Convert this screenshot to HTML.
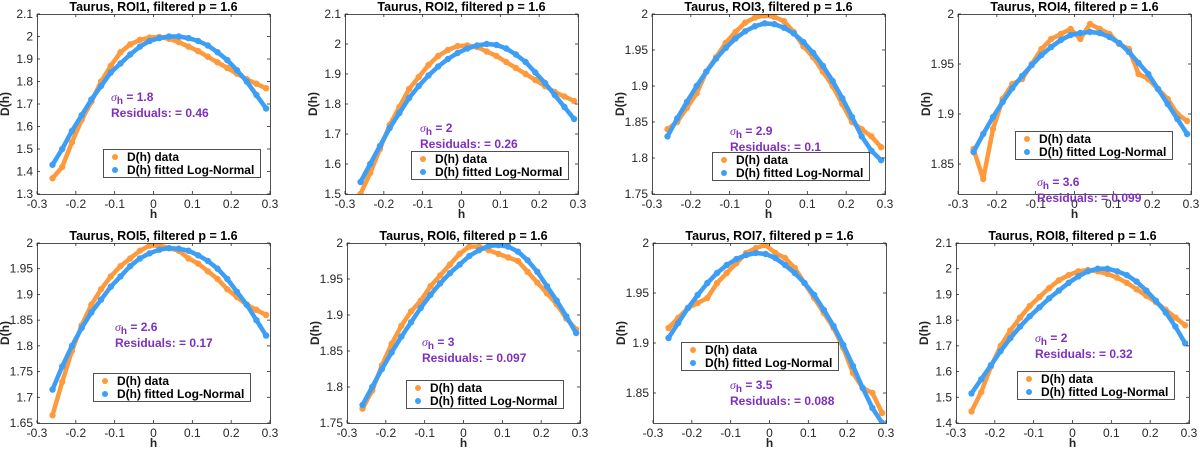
<!DOCTYPE html>
<html><head><meta charset="utf-8"><style>
html,body{margin:0;padding:0;background:#fff;}
svg{display:block;font-family:"Liberation Sans",sans-serif;}
</style></head><body>
<svg id="fig" width="1200" height="450" viewBox="0 0 1200 450" xmlns="http://www.w3.org/2000/svg"></svg>
<script>
const hValues = [-0.26,-0.235,-0.21,-0.185,-0.16,-0.135,-0.11,-0.085,-0.06,-0.035,-0.01,0.015,0.04,0.065,0.09,0.115,0.14,0.165,0.19,0.215,0.24,0.265,0.29];
const xTicks = [-0.3,-0.2,-0.1,0,0.1,0.2,0.3];
const xTickLabels = ["-0.3","-0.2","-0.1","0","0.1","0.2","0.3"];
const roiNames = ["ROI1","ROI2","ROI3","ROI4","ROI5","ROI6","ROI7","ROI8"];
const sigmaValues = ["1.8","2","2.9","3.6","2.6","3","3.5","2"];
const residualValues = ["0.46","0.26","0.1","0.099","0.17","0.097","0.088","0.32"];
const yMins = [1.3,1.5,1.75,1.82,1.65,1.75,1.82,1.4];
const yMaxs = [2.1,2.1,2.0,2.0,2.0,2.0,2.0,2.1];
const yTicks1 = [1.3,1.4,1.5,1.6,1.7,1.8,1.9,2,2.1];
const yTicks2 = [1.5,1.6,1.7,1.8,1.9,2,2.1];
const yTicks3 = [1.75,1.8,1.85,1.9,1.95,2];
const yTicks4 = [1.85,1.9,1.95,2];
const yTicks5 = [1.65,1.7,1.75,1.8,1.85,1.9,1.95,2];
const yTicks6 = [1.75,1.8,1.85,1.9,1.95,2];
const yTicks7 = [1.85,1.9,1.95,2];
const yTicks8 = [1.4,1.5,1.6,1.7,1.8,1.9,2,2.1];
const data1 = [1.37,1.42,1.53,1.63,1.71,1.80,1.87,1.93,1.965,1.985,1.995,1.998,1.99,1.975,1.955,1.935,1.91,1.885,1.86,1.835,1.81,1.79,1.77];
const fit1 = [1.43,1.50,1.58,1.65,1.72,1.78,1.84,1.88,1.92,1.955,1.98,1.993,2.0,2.0,1.993,1.98,1.96,1.93,1.895,1.85,1.80,1.74,1.68];
const data2 = [1.50,1.57,1.65,1.73,1.79,1.85,1.89,1.93,1.96,1.98,1.993,1.995,1.99,1.975,1.96,1.94,1.92,1.90,1.88,1.86,1.84,1.825,1.81];
const fit2 = [1.54,1.60,1.66,1.72,1.77,1.82,1.86,1.895,1.925,1.95,1.97,1.985,1.995,2.0,1.997,1.985,1.965,1.94,1.905,1.87,1.83,1.79,1.75];
const data3 = [1.84,1.85,1.87,1.89,1.92,1.94,1.96,1.975,1.988,1.995,1.998,1.996,1.99,1.975,1.955,1.94,1.92,1.90,1.875,1.85,1.84,1.83,1.815];
const fit3 = [1.83,1.855,1.878,1.90,1.92,1.938,1.953,1.966,1.976,1.983,1.987,1.986,1.981,1.973,1.961,1.946,1.928,1.907,1.883,1.857,1.83,1.81,1.797];
const data4 = [1.865,1.835,1.885,1.915,1.93,1.935,1.95,1.965,1.975,1.98,1.985,1.975,1.99,1.985,1.98,1.97,1.965,1.94,1.935,1.925,1.915,1.90,1.893];
const fit4 = [1.862,1.88,1.897,1.912,1.926,1.938,1.949,1.959,1.967,1.974,1.979,1.981,1.982,1.981,1.977,1.971,1.962,1.951,1.94,1.925,1.91,1.895,1.88];
const data5 = [1.665,1.73,1.79,1.84,1.88,1.91,1.935,1.955,1.97,1.985,1.995,1.995,1.99,1.985,1.97,1.96,1.945,1.93,1.91,1.895,1.88,1.87,1.86];
const fit5 = [1.715,1.76,1.80,1.835,1.865,1.89,1.915,1.935,1.955,1.97,1.98,1.987,1.99,1.989,1.985,1.976,1.965,1.95,1.93,1.905,1.88,1.85,1.82];
const data6 = [1.77,1.795,1.83,1.86,1.885,1.905,1.92,1.94,1.955,1.97,1.985,1.995,1.995,1.99,1.985,1.98,1.975,1.96,1.945,1.93,1.915,1.895,1.88];
const fit6 = [1.775,1.80,1.825,1.848,1.87,1.89,1.91,1.928,1.944,1.958,1.97,1.982,1.99,1.996,1.997,1.995,1.988,1.976,1.96,1.94,1.92,1.898,1.875];
const data7 = [1.915,1.925,1.935,1.94,1.945,1.96,1.97,1.98,1.99,1.995,1.998,1.99,1.985,1.975,1.96,1.945,1.93,1.915,1.895,1.87,1.855,1.85,1.83];
const fit7 = [1.905,1.92,1.935,1.948,1.96,1.97,1.978,1.984,1.988,1.99,1.989,1.985,1.978,1.97,1.96,1.948,1.933,1.917,1.898,1.877,1.855,1.835,1.82];
const data8 = [1.445,1.52,1.62,1.70,1.76,1.81,1.855,1.89,1.925,1.955,1.975,1.99,1.995,1.99,1.98,1.965,1.945,1.92,1.895,1.87,1.84,1.81,1.78];
const fit8 = [1.515,1.57,1.625,1.68,1.73,1.775,1.815,1.85,1.885,1.915,1.945,1.97,1.99,2.0,2.0,1.99,1.975,1.95,1.915,1.875,1.83,1.775,1.71];

const allData = [data1,data2,data3,data4,data5,data6,data7,data8];
const allFit = [fit1,fit2,fit3,fit4,fit5,fit6,fit7,fit8];
const allYTicks = [yTicks1,yTicks2,yTicks3,yTicks4,yTicks5,yTicks6,yTicks7,yTicks8];

const panelLeft = [37,345,652,958,37,347,653,956];
const panelTop = [14,14,14,14,243,243,243,243];
const PW = 233, PH = 180;
const legendPos = [[103,149],[411,151],[712,152],[1015,131],[93,373],[406,380],[681,342],[1017,371]];
const annPos = [[111,97],[420,128],[730,131],[1037,182],[115,327],[422,342],[730,385],[1035,338]];

const NS = "http://www.w3.org/2000/svg";
const svg = document.getElementById("fig");
function mk(tag, attrs, parent){
  const e = document.createElementNS(NS, tag);
  for (const k in attrs) e.setAttribute(k, attrs[k]);
  (parent||svg).appendChild(e);
  return e;
}
const ORANGE = "#FF9A3C", BLUE = "#3D9EF5";

for (let p = 0; p < 8; p++) {
  const L = panelLeft[p], T = panelTop[p];
  const g = mk("g", {});
  
  
  const xS = v => L + (v + 0.3) / 0.6 * PW;
  const yS = v => T + PH - (v - yMins[p]) / (yMaxs[p] - yMins[p]) * PH;
  const clipId = "clip" + p;
  const cp = mk("clipPath", {id: clipId}, g);
  mk("rect", {x: L, y: T, width: PW, height: PH}, cp);

  const series = [[allData[p], ORANGE, 'data-series'], [allFit[p], BLUE, 'fit-series']];
  for (const [vals, col, nm] of series) {
    const sg = mk("g", {"clip-path": "url(#" + clipId + ")"}, g);
    
    
    const pts = vals.map((v, i) => xS(hValues[i]).toFixed(1) + "," + yS(v).toFixed(1)).join(" ");
    mk("polyline", {points: pts, fill: "none", stroke: col, "stroke-width": 4.5, "stroke-linejoin": "round", "stroke-linecap": "round"}, sg);
    vals.forEach((v, i) => {
      const c = mk("circle", {cx: xS(hValues[i]), cy: yS(v), r: 3.2, fill: col}, sg);
      
      
    });
  }

  const box = mk("rect", {x: L + 0.5, y: T + 0.5, width: PW, height: PH, fill: "none", stroke: "#262626", "stroke-width": 0.8}, g);
  
  

  xTicks.forEach((t, i) => {
    const x = xS(t);
    mk("line", {x1: x, x2: x, y1: T + PH, y2: T + PH - 3, stroke: "#262626", "stroke-width": 0.8}, g);
    mk("line", {x1: x, x2: x, y1: T, y2: T + 3, stroke: "#262626", "stroke-width": 0.8}, g);
    const tx = mk("text", {x: x, y: T + PH + 14, "text-anchor": "middle", "font-size": 12, fill: "#262626"}, g);
    tx.textContent = xTickLabels[i];
    
    
  });
  allYTicks[p].forEach(t => {
    const y = yS(t);
    mk("line", {x1: L, x2: L + 3, y1: y, y2: y, stroke: "#262626", "stroke-width": 0.8}, g);
    mk("line", {x1: L + PW, x2: L + PW - 3, y1: y, y2: y, stroke: "#262626", "stroke-width": 0.8}, g);
    const ty = mk("text", {x: L - 4, y: y + 4, "text-anchor": "end", "font-size": 12, fill: "#262626"}, g);
    ty.textContent = String(t);
    
    
  });
  const ti = mk("text", {x: L + PW / 2, y: T - 3, "text-anchor": "middle", "font-size": 12.5, "font-weight": "bold", fill: "#000"}, g);
  ti.textContent = "Taurus, " + roiNames[p] + ", filtered p = 1.6";
  
  
  const xl = mk("text", {x: L + PW / 2, y: T + PH + 24, "text-anchor": "middle", "font-size": 12, "font-weight": "bold", fill: "#262626"}, g);
  xl.textContent = "h";
  
  
  const yx = L - 28, yy = T + PH / 2;
  const yl = mk("text", {x: yx, y: yy, "text-anchor": "middle", "font-size": 12, "font-weight": "bold", fill: "#262626", transform: "rotate(-90 " + yx + " " + yy + ")"}, g);
  yl.textContent = "D(h)";
  
  

  const [ax, ay] = annPos[p];
  const s = mk("text", {x: ax, y: ay + 4, "font-size": 12, "font-weight": "bold", fill: "#7E2FBE"}, g);
  
  
  const s1 = mk("tspan", {"font-style": "italic", "font-weight": "normal", "font-family": "Liberation Serif, serif"}, s); s1.textContent = "σ";
  const s2 = mk("tspan", {dy: 3, "font-size": 10}, s); s2.textContent = "h";
  const s3 = mk("tspan", {dy: -3}, s); s3.textContent = " = " + sigmaValues[p];
  const r = mk("text", {x: ax, y: ay + 20, "font-size": 12, "font-weight": "bold", fill: "#7E2FBE"}, g);
  r.textContent = "Residuals: = " + residualValues[p];
  
  

  const [lx, ly] = legendPos[p];
  const lg = mk("g", {}, g);
  
  
  mk("rect", {x: lx + 0.5, y: ly + 0.5, width: 157, height: 28, fill: "#fff", stroke: "#262626", "stroke-width": 0.8}, lg);
  [["D(h) data", ORANGE], ["D(h) fitted Log-Normal", BLUE]].forEach(([lab, col], i) => {
    const ey = ly + 8 + i * 13;
    mk("circle", {cx: lx + 12, cy: ey, r: 3, fill: col}, lg);
    const lt = mk("text", {x: lx + 24, y: ey + 4, "font-size": 12, "font-weight": "bold", fill: "#000"}, lg);
    lt.textContent = lab;
    
    
  });
}
</script>
</body></html>
